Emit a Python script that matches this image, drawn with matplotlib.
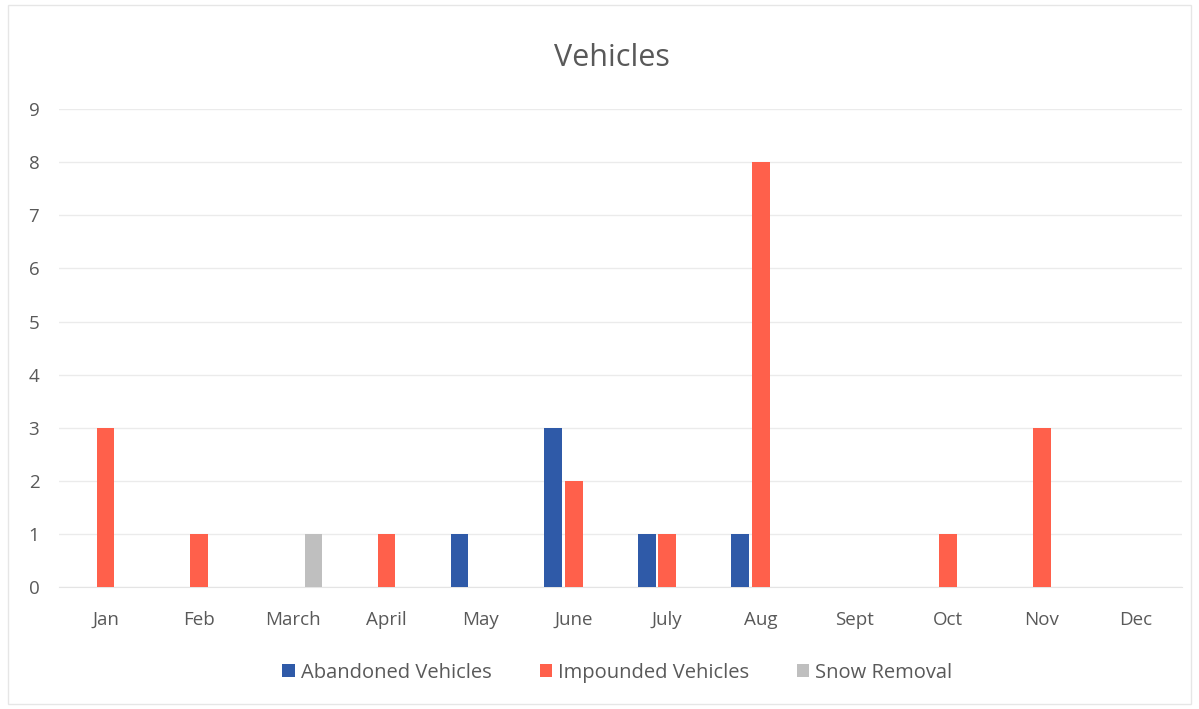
import matplotlib
matplotlib.use("Agg")
import matplotlib.pyplot as plt
import numpy as np
from matplotlib.patches import Rectangle

months = ["Jan", "Feb", "March", "April", "May", "June", "July", "Aug",
          "Sept", "Oct", "Nov", "Dec"]
abandoned = [0, 0, 0, 0, 1, 3, 1, 1, 0, 0, 0, 0]
impounded = [3, 1, 0, 1, 0, 2, 1, 8, 0, 1, 3, 0]
snow_removal = [0, 0, 1, 0, 0, 0, 0, 0, 0, 0, 0, 0]
series_names = ["Abandoned Vehicles", "Impounded Vehicles", "Snow Removal"]
series_colors = ["#2F5AA8", "#FF604B", "#BFBFBF"]

plt.rcParams["font.family"] = ["Open Sans", "DejaVu Sans"]
text_color = "#595959"

fig = plt.figure(figsize=(11.99, 7.09), dpi=100)
ax = fig.add_axes([0.049, 0.172, 0.937, 0.674])

x = np.arange(len(months))
width = 0.19
step = 0.22
for i, (vals, name, col) in enumerate(zip([abandoned, impounded, snow_removal],
                                           series_names, series_colors)):
    ax.bar(x + (i - 1) * step, vals, width, color=col, label=name, zorder=3)

ax.set_xlim(-0.5, len(months) - 0.5)
ax.set_ylim(0, 9)
ax.set_yticks(range(10))
ax.set_xticks(x)
ax.set_xticklabels(months)
ax.tick_params(axis="both", length=0, labelsize=13.5, colors=text_color)
ax.tick_params(axis="x", pad=17)
ax.tick_params(axis="y", pad=14)
ax.grid(axis="y", color="#EBEBEB", linewidth=1, zorder=0)
for s in ["top", "right", "left"]:
    ax.spines[s].set_visible(False)
ax.spines["bottom"].set_color("#E4E4E4")

fig.text(0.51, 0.918, "Vehicles", ha="center", va="center", fontsize=22,
         color=text_color)

leg = fig.legend(loc="center", bbox_to_anchor=(0.515, 0.051), ncol=3,
                 frameon=False, fontsize=14.5, handlelength=0.6,
                 handleheight=0.6, handletextpad=0.3, columnspacing=2.4)
for t in leg.get_texts():
    t.set_color(text_color)

fig.patches.append(Rectangle((0.007, 0.007), 0.986, 0.986,
                             transform=fig.transFigure, fill=False,
                             edgecolor="#E6E6E6", linewidth=1))

fig.savefig("out.png", dpi=100, facecolor="white")
